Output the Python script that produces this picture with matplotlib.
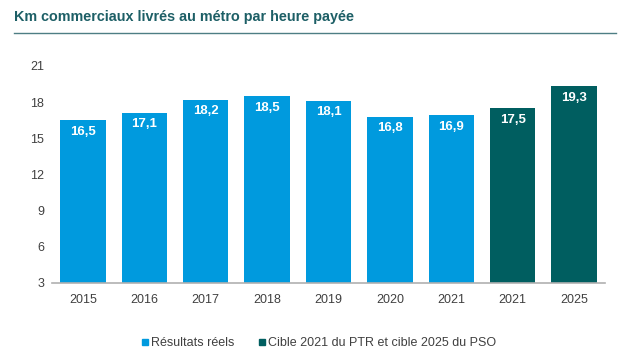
#!/usr/bin/env python

import numpy as np
import matplotlib
matplotlib.use('Agg')
import matplotlib.pyplot as plt
from matplotlib.lines import Line2D

# data
years = ['2015', '2016', '2017', '2018', '2019', '2020', '2021', '2021', '2025']
values = [16.5, 17.1, 18.2, 18.5, 18.1, 16.8, 16.9, 17.5, 19.3]
is_target = [False, False, False, False, False, False, False, True, True]
series_names = ['Résultats réels', 'Cible 2021 du PTR et cible 2025 du PSO']
yticks = [3, 6, 9, 12, 15, 18, 21]

light_blue = '#009ADE'
dark_teal = '#005E60'
title_color = '#1D5F66'
text_color = '#404040'


def main():
	plt.rcParams['font.family'] = ['Liberation Sans', 'DejaVu Sans']

	fig = plt.figure(figsize=(6.30, 3.63), dpi=100)
	ax = fig.add_axes([0.083, 0.2204, 0.877, 0.5978])

	x = np.arange(len(years))
	colors = [dark_teal if t else light_blue for t in is_target]
	ax.bar(x, values, width=0.74, bottom=0, color=colors, zorder=2)

	#white labels inside the top of each bar
	for xi, v in zip(x, values):
		ax.text(xi, v - 0.45, ('%.1f' % v).replace('.', ','), ha='center', va='top',
				color='white', fontsize=9.5, fontweight='bold', zorder=3)

	ax.set_xlim(-0.5, len(years) - 0.5)
	ax.set_ylim(3, 21)
	ax.set_yticks(yticks)
	ax.set_xticks(x)
	ax.set_xticklabels(years)
	ax.tick_params(axis='both', length=0, labelsize=9, colors=text_color)
	ax.tick_params(axis='x', pad=8)
	ax.tick_params(axis='y', pad=6)

	for side in ['top', 'right', 'left']:
		ax.spines[side].set_visible(False)
	ax.spines['bottom'].set_color('#B0B0B0')
	ax.spines['bottom'].set_linewidth(1.2)

	#title and rule below it
	fig.text(14 / 630, 1 - 17 / 363, 'Km commerciaux livrés au métro par heure payée',
			 ha='left', va='center', fontsize=10.4, fontweight='bold', color=title_color)
	fig.add_artist(Line2D([14 / 630, 616 / 630], [1 - 33 / 363, 1 - 33 / 363],
						  color='#4E7E84', linewidth=1.0))

	handles = [Line2D([], [], marker='s', linestyle='none', markersize=5,
					  color=light_blue),
			   Line2D([], [], marker='s', linestyle='none', markersize=5,
					  color=dark_teal)]
	fig.legend(handles, series_names, loc='center', bbox_to_anchor=(0.505, 1 - 343 / 363),
			   ncol=2, frameon=False, fontsize=9, handletextpad=0.1,
			   columnspacing=1.8, handlelength=0.8, labelcolor=text_color)

	fig.savefig('out.png', dpi=100, facecolor='white')


if __name__ == '__main__':
	main()
